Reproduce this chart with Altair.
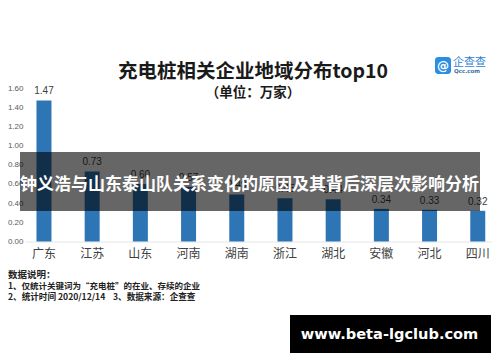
import altair as alt
import pandas as pd

provinces = ["广东", "江苏", "山东", "河南", "湖南", "浙江", "湖北", "安徽", "河北", "四川"]
values = [1.47, 0.73, 0.60, 0.57, 0.49, 0.45, 0.44, 0.34, 0.33, 0.32]
y_ticks = [0.0, 0.2, 0.4, 0.6, 0.8, 1.0, 1.2, 1.4, 1.6]

title_text = "充电桩相关企业地域分布top10"
subtitle_text = "（单位：万家）"
overlay_text = "钟义浩与山东泰山队关系变化的原因及其背后深层次影响分析"
notes = ["数据说明：", "1、仅统计关键词为“充电桩”的在业、存续的企业",
         "2、统计时间 2020/12/14\u00a0\u00a0\u00a0\u00a03、数据来源：企查查"]
logo_name = "企查查"
logo_site = "Qcc.com"
watermark = "www.beta-lgclub.com"

df = pd.DataFrame({"province": provinces, "value": values})

CJK = "Noto Sans CJK SC"
BLUE = "#2E75B6"
DX = -3  # shift of annotation coordinates relative to the plot origin

x_enc = alt.X(
    "province:N",
    sort=provinces,
    scale=alt.Scale(paddingInner=0.689, paddingOuter=0.189, align=0.63),
    axis=alt.Axis(
        title="", labelAngle=0, labelFont=CJK, labelFontSize=12, labelColor="#404040",
        ticks=False, domainColor="#e6e6e6", labelPadding=7,
    ),
)
y_enc = alt.Y(
    "value:Q",
    scale=alt.Scale(domain=[0, 1.6], nice=False),
    axis=alt.Axis(
        title="", values=y_ticks, format=".2f", labelFontSize=8, labelColor="#595959",
        labelFont="Liberation Sans", ticks=False, domain=False, grid=False, labelPadding=2,
    ),
)

base = alt.Chart(df)
bars = base.mark_bar(color=BLUE).encode(x=x_enc, y=y_enc)
labels = base.mark_text(
    baseline="bottom", dy=-4, fontSize=10, color="#404040", font="Liberation Sans"
).encode(x=x_enc, y=y_enc, text=alt.Text("value:Q", format=".2f"))


def one():
    return alt.Chart(alt.Data(values=[{"a": 1}]))


def txt(s, x, y, **kw):
    return one().mark_text(**kw).encode(x=alt.value(x + DX), y=alt.value(y), text=alt.value(s))


def box(x1, x2, y1, y2, **kw):
    return one().mark_rect(**kw).encode(
        x=alt.value(x1 + DX), x2=alt.value(x2 + DX), y=alt.value(y1), y2=alt.value(y2))


title = txt(title_text, 231, -16, font=CJK, fontSize=19.5, fontWeight="bold", color="#1a1a1a", align="center", baseline="middle")
subtitle = txt(subtitle_text, 231, 5, font=CJK, fontSize=13.5, fontWeight="bold", color="#1a1a1a", align="center", baseline="middle")

logo_box = box(413, 429, -31, -14, color="#2a8fe0", cornerRadius=3)
logo_icon = txt("@", 421, -22, font="DejaVu Sans", fontSize=12, fontWeight="bold", color="white", align="center", baseline="middle")
logo_t1 = txt(logo_name, 431, -25, font=CJK, fontSize=11, color="#2f7fd0", align="left", baseline="middle")
logo_t2 = txt(logo_site, 432, -17, font="DejaVu Sans", fontSize=5.5, fontWeight="bold", color="#3a6ea5", align="left", baseline="middle")

band = box(-2, 458, 64, 123, color="black", opacity=0.6)
band_text = txt(overlay_text, 227.5, 97, font=CJK, fontSize=17, fontWeight="bold", color="white", align="center", baseline="middle")

note_layers = [
    txt(notes[0], -14, 187, font=CJK, fontSize=9.5, fontWeight="bold", color="#222222", align="left", baseline="middle"),
    txt(notes[1], -14, 198, font=CJK, fontSize=8.5, fontWeight="bold", color="#222222", align="left", baseline="middle"),
    txt(notes[2], -14, 208.5, font=CJK, fontSize=8.6, fontWeight="bold", color="#222222", align="left", baseline="middle"),
]

wm_box = box(268, 469, 227, 265, color="black")
wm_text = txt(watermark, 367.5, 247, font="DejaVu Sans", fontSize=14.6, fontWeight="bold", color="white", align="center", baseline="middle")

chart = alt.layer(
    bars, labels, title, subtitle, logo_box, logo_icon, logo_t1, logo_t2,
    band, band_text, *note_layers, wm_box, wm_text,
).properties(
    width=467, height=153.5,
    padding={"left": 17, "top": 80, "right": 0, "bottom": 112.5},
    autosize=alt.AutoSizeParams(type="none"),
    background="white",
).configure_view(strokeWidth=0)

chart.save("out.html", embed_options={"renderer": "svg", "actions": False})
